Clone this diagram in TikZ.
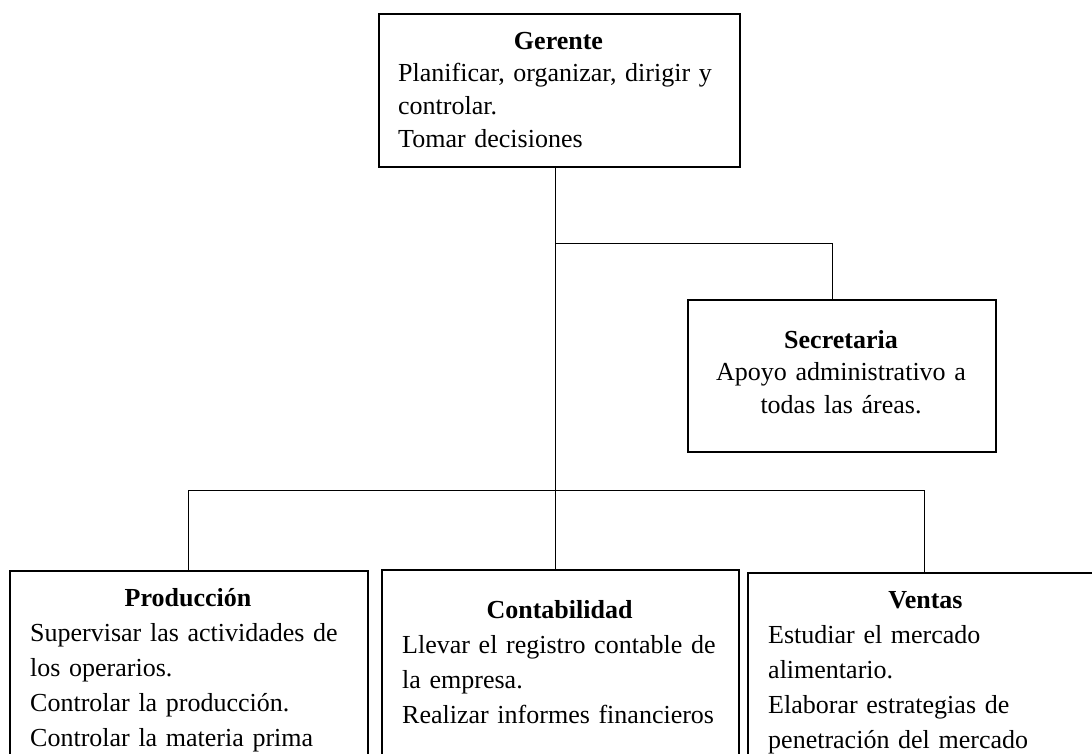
\documentclass[tikz,border=0pt]{standalone}
\usepackage{fontspec}
\setmainfont{Liberation Serif}
\begin{document}
\begin{tikzpicture}[x=1pt, y=-1pt,
  box/.style={draw, line width=1.5pt, inner sep=0pt, anchor=north west},
  link/.style={line width=1pt},
  ttl/.style={inner sep=0pt, anchor=base, font=\fontsize{26}{32}\selectfont\bfseries},
  tightbody/.style={inner sep=0pt, text width=#1, font=\fontsize{26}{32.6}\selectfont},
  loosebody/.style={inner sep=0pt, anchor=north west, align=left, text width=#1, font=\fontsize{26}{35}\selectfont},
]
\useasboundingbox (0,0) rectangle (1092,753);
\fill[white] (0,0) rectangle (1092,753);
\clip (0,0) rectangle (1092,753);

% boxes
\node[box, minimum width=361pt, minimum height=153pt] (ger) at (378,13) {};
\node[box, minimum width=308pt, minimum height=152pt] (sec) at (687,299) {};
\node[box, minimum width=358pt, minimum height=240pt] (prod) at (9,570) {};
\node[box, minimum width=357pt, minimum height=240pt] (cont) at (381,569) {};
\node[box, minimum width=357pt, minimum height=240pt] (vent) at (747,572) {};

% Gerente
\node[ttl] (gerT) at (558.5,49.3) {Gerente};
\node[tightbody=360pt, anchor=north west, align=left] (gerB) at (398,56.7)
  {\rule{0pt}{25pt}Planificar, organizar, dirigir y\\controlar.\\Tomar decisiones};

% Secretaria
\node[ttl] (secT) at (841,348) {Secretaria};
\node[tightbody=300pt, anchor=north, align=center] (secB) at (841,355.5)
  {\rule{0pt}{25pt}Apoyo administrativo a\\todas las áreas.};

% Producción
\node[ttl] (prodT) at (188,606.7) {Producción};
\node[loosebody=340pt] (prodB) at (30,616.7)
  {\rule{0pt}{25pt}Supervisar las actividades de\\los operarios.\\Controlar la producción.\\Controlar la materia prima};

% Contabilidad
\node[ttl] (contT) at (559.5,618) {Contabilidad};
\node[loosebody=340pt] (contB) at (402,628)
  {\rule{0pt}{25pt}Llevar el registro contable de\\la empresa.\\Realizar informes financieros};

% Ventas
\node[ttl] (ventT) at (925.5,608) {Ventas};
\node[loosebody=340pt] (ventB) at (768,618)
  {\rule{0pt}{25pt}Estudiar el mercado\\alimentario.\\Elaborar estrategias de\\penetración del mercado};

% junction points of the connectors
\coordinate (spine) at (555,490);
\coordinate (secsplit) at (555,243);
\coordinate (secdrop) at (832,243);
\coordinate (left) at (188,490);
\coordinate (right) at (924,490);

% connectors
\draw[link] (ger.south -| spine) -- (spine);
\draw[link] (secsplit) -- (secdrop) -- (sec.north -| secdrop);
\draw[link] (left) -- (right);
\draw[link] (left) -- (prod.north -| left);
\draw[link] (spine) -- (cont.north -| spine);
\draw[link] (right) -- (vent.north -| right);
\end{tikzpicture}
\end{document}
